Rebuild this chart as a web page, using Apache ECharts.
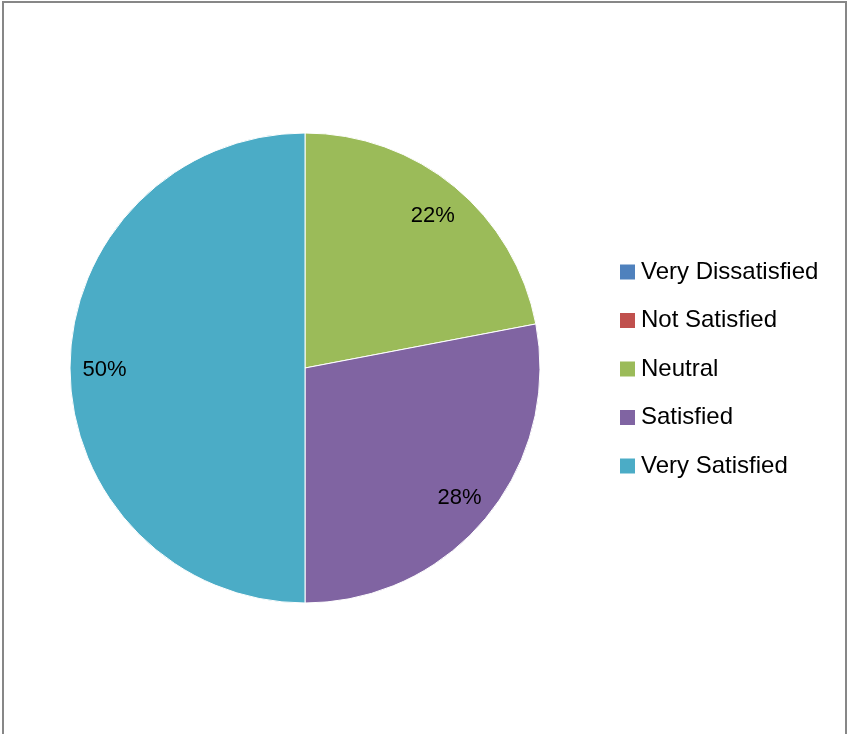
<!DOCTYPE html>
<html>
<head>
<meta charset="utf-8">
<script src="https://cdn.jsdelivr.net/npm/echarts@6/dist/echarts.min.js"></script>
<style>
  html, body { margin: 0; padding: 0; background: #fff; }
  #wrap { position: relative; width: 847px; height: 734px; overflow: hidden; }
  #chart { position: absolute; left: 0; top: 0; width: 847px; height: 734px; }
  #frame { position: absolute; left: 2px; top: 1px; width: 845px; height: 760px; border: 2px solid #878787; box-sizing: border-box; pointer-events: none; }
</style>
</head>
<body>
<div id="wrap">
  <div id="chart"></div>
  <div id="frame"></div>
</div>
<script>
const categories = ['Very Dissatisfied', 'Not Satisfied', 'Neutral', 'Satisfied', 'Very Satisfied'];
const values = [0, 0, 22, 28, 50];
const colors = ['#4F81BD', '#C0504D', '#9BBB59', '#8064A2', '#4BACC6'];

const fontFamily = '"Liberation Sans", Arial, sans-serif';
const dataMain = categories.map((c, i) => ({ name: c, value: values[i], itemStyle: { color: colors[i] } }));
const dataLabel = categories.map((c, i) => ({ name: c, value: values[i] }));

const chart = echarts.init(document.getElementById('chart'), null, { renderer: 'canvas' });
chart.setOption({
  animation: false,
  backgroundColor: '#fff',
  legend: {
    orient: 'vertical',
    left: 613,
    top: 255,
    data: categories,
    icon: 'rect',
    itemWidth: 17,
    itemHeight: 17,
    itemGap: 24.5,
    textStyle: { fontFamily: fontFamily, fontSize: 24, color: '#000', lineHeight: 24 },
    selectedMode: false
  },
  series: [
    {
      type: 'pie',
      center: [305, 368],
      radius: [0, 235],
      startAngle: 90,
      clockwise: true,
      silent: true,
      label: { show: false },
      labelLine: { show: false },
      itemStyle: { borderColor: '#ffffff', borderWidth: 1 },
      data: dataMain,
      z: 2
    },
    {
      type: 'pie',
      center: [305, 370],
      radius: [160, 235],
      startAngle: 90,
      clockwise: true,
      silent: true,
      itemStyle: { color: 'transparent', borderWidth: 0 },
      label: {
        show: true,
        position: 'inside',
        fontFamily: fontFamily,
        fontSize: 22,
        color: '#000',
        formatter: p => (p.value > 0 ? p.value + '%' : '')
      },
      labelLine: { show: false },
      emphasis: { disabled: true },
      data: dataLabel,
      z: 3
    }
  ]
});
</script>
</body>
</html>
